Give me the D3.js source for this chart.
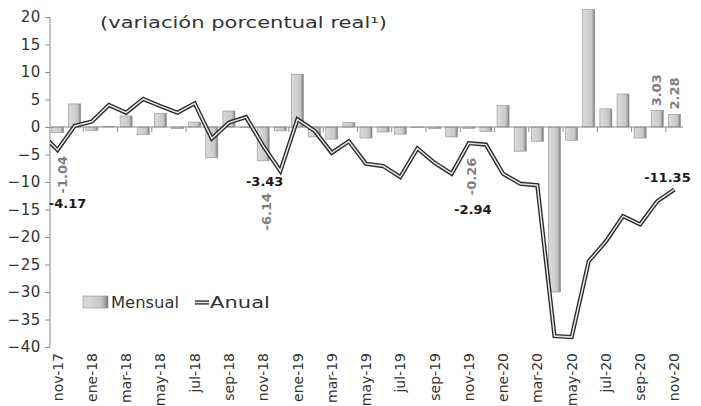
<!DOCTYPE html>
<html>
<head>
<meta charset="utf-8">
<script src="https://cdn.jsdelivr.net/npm/d3@7"></script>
<style>
  body { margin: 0; background: #fff; }
  svg { display: block; font-family: "DejaVu Sans", sans-serif; }
</style>
</head>
<body>
<div id="chart-container"></div>
<script>
// categories (monthly, nov-17 .. nov-20)
const months = [
  'nov-17', 'dic-17', 'ene-18', 'feb-18', 'mar-18', 'abr-18', 'may-18', 'jun-18', 'jul-18', 'ago-18', 'sep-18', 'oct-18',
  'nov-18', 'dic-18', 'ene-19', 'feb-19', 'mar-19', 'abr-19', 'may-19', 'jun-19', 'jul-19', 'ago-19', 'sep-19', 'oct-19',
  'nov-19', 'dic-19', 'ene-20', 'feb-20', 'mar-20', 'abr-20', 'may-20', 'jun-20', 'jul-20', 'ago-20', 'sep-20', 'oct-20',
  'nov-20'
];

// monthly change (bars)
const mensual = [
  -1.04, 4.2, -0.6, 0.1, 2.0, -1.4, 2.5, -0.3, 0.9, -5.6, 2.9, -0.1,
  -6.14, -0.7, 9.6, -1.8, -2.2, 0.8, -2.0, -0.9, -1.3, -0.1, -0.3, -1.8,
  -0.26, -0.8, 3.9, -4.4, -2.6, -30.0, -2.4, 21.4, 3.3, 6.0, -2.0, 3.03,
  2.28
];

// annual change (line)
const anual = [
  -4.17, 0.2, 1.0, 4.0, 2.6, 5.1, 3.8, 2.6, 4.3, -2.1, 0.8, 1.8,
  -3.43, -8.0, 1.4, -0.7, -4.7, -2.6, -6.7, -7.1, -9.1, -3.9, -6.5, -8.5,
  -2.94, -3.2, -8.5, -10.3, -10.6, -38.0, -38.2, -24.4, -20.8, -16.2, -17.7, -13.5,
  -11.35
];
// oct-17 value, only the tail of it shows left of the axis
const anualPrev = -1.1;

const yTicks = [20, 15, 10, 5, 0, -5, -10, -15, -20, -25, -30, -35, -40];
const xTickLabels = months.filter((d, i) => i % 2 === 0);

// data labels: [month, text]
const barLabels = [['nov-17', '-1.04'], ['nov-18', '-6.14'], ['nov-19', '-0.26'], ['oct-20', '3.03'], ['nov-20', '2.28']];
const lineLabels = [['nov-17', '-4.17'], ['nov-18', '-3.43'], ['nov-19', '-2.94'], ['nov-20', '-11.35']];
// pixel nudges of the labels (layout only)
const barLabelNudge = [[5, 42], [3.5, 51], [2.5, 48], [-0.5, -20], [-0.5, -21]];
const lineLabelNudge = [[10, 53], [1.5, 35], [4, 66], [-7, -12]];

const svg = d3.select('#chart-container')
  .append('svg')
  .attr('width', 701)
  .attr('height', 406);

const x = d3.scaleBand()
  .domain(months)
  .range([49, 683])
  .paddingInner(0.3)
  .paddingOuter(0.15);

const y = d3.scaleLinear()
  .domain([-40, 20])
  .range([347, 17]);

const xc = m => x(m) + x.bandwidth() / 2;

// stretch a text horizontally so it spans a given width (the original font is much wider)
function fitWidth(sel, x0, yBase, target) {
  const w = sel.node().getComputedTextLength();
  sel.attr('transform', `translate(${x0},${yBase}) scale(${target / w},1)`);
}

// gradient for bars
const defs = svg.append('defs');
const grad = defs.append('linearGradient')
  .attr('id', 'barGrad')
  .attr('x1', 0).attr('x2', 1).attr('y1', 0).attr('y2', 0);
grad.append('stop').attr('offset', '0%').attr('stop-color', '#dcdcdc');
grad.append('stop').attr('offset', '72%').attr('stop-color', '#c8c8c8');
grad.append('stop').attr('offset', '86%').attr('stop-color', '#a9a9a9');
grad.append('stop').attr('offset', '100%').attr('stop-color', '#6f6f6f');

defs.append('clipPath').attr('id', 'plotClip')
  .append('rect')
  .attr('x', 50).attr('y', 0)
  .attr('width', 634).attr('height', 406);

// title
const title = svg.append('text')
  .attr('font-size', 15.5)
  .attr('fill', '#333')
  .text('(variación porcentual real¹)');
fitWidth(title, 100, 28, 287);

// y axis
const yAxis = svg.append('g')
  .attr('transform', 'translate(50,0)')
  .call(d3.axisLeft(y).tickValues(yTicks).tickSize(5).tickPadding(4).tickFormat(d3.format('d')));
yAxis.select('.domain').attr('stroke', '#8c8c8c').attr('d', `M0,${y(20)}V${y(-40)}`);
yAxis.selectAll('.tick line').attr('stroke', '#8c8c8c');
yAxis.selectAll('.tick text')
  .attr('font-size', 15)
  .attr('letter-spacing', 0.6)
  .attr('fill', '#333')
  .attr('font-family', '"DejaVu Sans", sans-serif');

// bars
svg.append('g')
  .selectAll('rect')
  .data(mensual)
  .enter().append('rect')
  .attr('x', (d, i) => x(months[i]))
  .attr('y', d => y(Math.max(0, d)))
  .attr('width', x.bandwidth())
  .attr('height', d => Math.abs(y(d) - y(0)))
  .attr('fill', 'url(#barGrad)')
  .attr('stroke', '#999')
  .attr('stroke-width', 0.7);

// zero line with ticks every two months
svg.append('line')
  .attr('x1', 50).attr('x2', 683)
  .attr('y1', y(0)).attr('y2', y(0))
  .attr('stroke', '#8c8c8c');

svg.append('g')
  .selectAll('line')
  .data(months.filter((d, i) => i > 0 && i % 2 === 0))
  .enter().append('line')
  .attr('x1', d => x(d) - x.step() * x.paddingInner() / 2)
  .attr('x2', d => x(d) - x.step() * x.paddingInner() / 2)
  .attr('y1', y(0))
  .attr('y2', y(0) + 5)
  .attr('stroke', '#8c8c8c');

// annual line: dark outline with light core
const pts = [{ px: xc(months[0]) - x.step(), v: anualPrev }]
  .concat(anual.map((v, i) => ({ px: xc(months[i]), v })));
const line = d3.line().x(d => d.px).y(d => y(d.v));

const lineG = svg.append('g').attr('clip-path', 'url(#plotClip)');
lineG.append('path')
  .datum(pts)
  .attr('d', line)
  .attr('fill', 'none')
  .attr('stroke', '#2a2a2a')
  .attr('stroke-width', 4.2);
lineG.append('path')
  .datum(pts)
  .attr('d', line)
  .attr('fill', 'none')
  .attr('stroke', '#e6e6e6')
  .attr('stroke-width', 1.5);

// x labels
svg.append('g')
  .selectAll('text')
  .data(xTickLabels)
  .enter().append('text')
  .attr('transform', d => `translate(${xc(d)},353) rotate(-90)`)
  .attr('dy', '0.36em')
  .attr('text-anchor', 'end')
  .attr('font-size', 14)
  .attr('fill', '#333')
  .text(d => d);

// bar value labels (rotated, grey)
svg.append('g')
  .selectAll('text')
  .data(barLabels)
  .enter().append('text')
  .attr('transform', (d, i) => {
    const v = mensual[months.indexOf(d[0])];
    return `translate(${xc(d[0]) + barLabelNudge[i][0]},${y(v) + barLabelNudge[i][1]}) rotate(-90)`;
  })
  .attr('dy', '0.36em')
  .attr('text-anchor', 'middle')
  .attr('font-size', 13)
  .attr('font-weight', 'bold')
  .attr('fill', '#7f7f7f')
  .text(d => d[1]);

// line value labels (bold, black)
svg.append('g')
  .selectAll('text')
  .data(lineLabels)
  .enter().append('text')
  .attr('x', (d, i) => xc(d[0]) + lineLabelNudge[i][0])
  .attr('y', (d, i) => y(anual[months.indexOf(d[0])]) + lineLabelNudge[i][1])
  .attr('dy', '0.36em')
  .attr('text-anchor', 'middle')
  .attr('font-size', 13)
  .attr('font-weight', 'bold')
  .attr('fill', '#1a1a1a')
  .text(d => d[1]);

// legend
const legend = svg.append('g');
legend.append('rect')
  .attr('x', 83).attr('y', 296)
  .attr('width', 25).attr('height', 12)
  .attr('fill', 'url(#barGrad)')
  .attr('stroke', '#999')
  .attr('stroke-width', 0.7);
const legM = legend.append('text')
  .attr('font-size', 15)
  .attr('fill', '#333')
  .text('Mensual');
fitWidth(legM, 111, 308, 68);
legend.append('line')
  .attr('x1', 195).attr('x2', 209)
  .attr('y1', 302.5).attr('y2', 302.5)
  .attr('stroke', '#2a2a2a').attr('stroke-width', 4.2);
legend.append('line')
  .attr('x1', 195).attr('x2', 209)
  .attr('y1', 302.5).attr('y2', 302.5)
  .attr('stroke', '#e6e6e6').attr('stroke-width', 1.5);
const legA = legend.append('text')
  .attr('font-size', 15)
  .attr('fill', '#333')
  .text('Anual');
fitWidth(legA, 210, 308, 60);
</script>
</body>
</html>
